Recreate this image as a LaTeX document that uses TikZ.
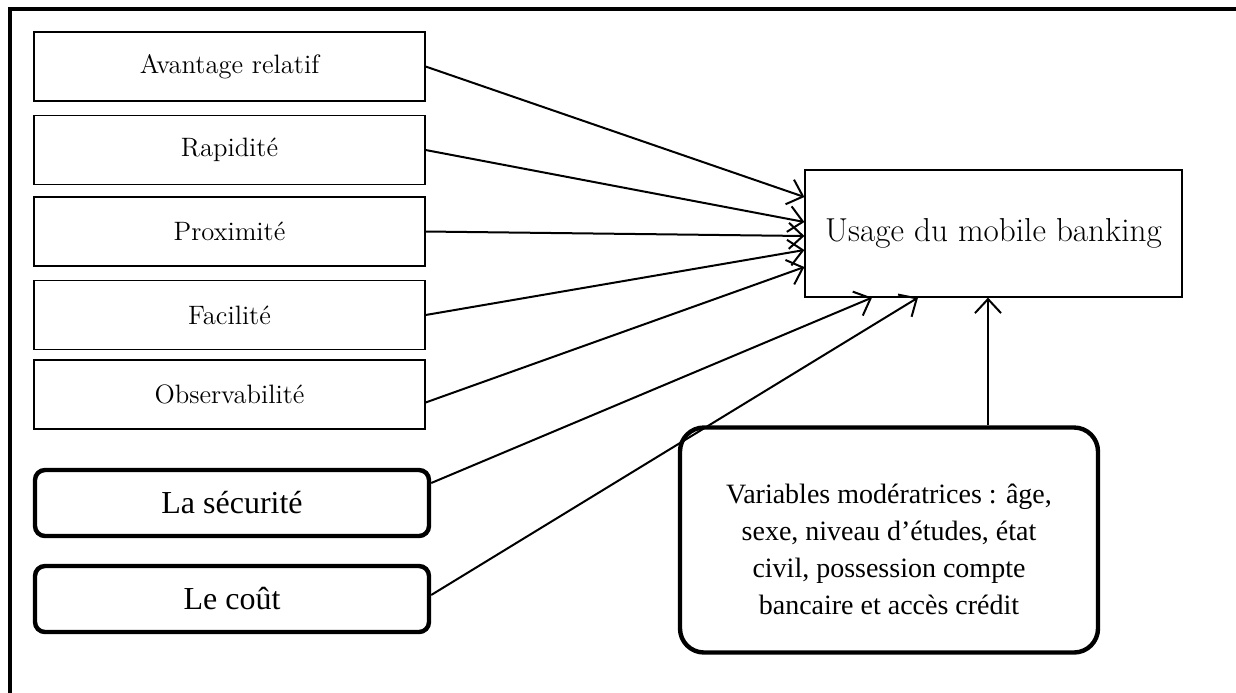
\documentclass[tikz,border=0pt]{standalone}
\usepackage{fontspec}
\newfontfamily\timesfont{Liberation Serif}
\usetikzlibrary{arrows.meta,calc}

\tikzset{
  facteur/.style={draw, line width=0.6pt, minimum width=195.5pt, minimum height=34.5pt, inner sep=0pt, font=\fontsize{13.3}{16}\selectfont},
  risque/.style={draw, line width=2.2pt, rounded corners=5pt, minimum width=197pt, minimum height=33pt, inner sep=0pt, font=\timesfont\fontsize{16}{19}\selectfont},
  fleche/.style={line width=1pt, -{Straight Barb[length=7pt,width=13pt]}},
}

\begin{document}
\begin{tikzpicture}[x=0.5pt, y=-0.5pt]
    \useasboundingbox (0,0) rectangle (1236,692);
    \clip (0,0) rectangle (1236,692);
    \draw[line width=2pt] (10,700) -- (10,9) -- (1236,9); % Cadre
    \node[facteur] (avantage) at (229.5,66.5) {Avantage relatif};
    \node[facteur] (rapidite) at (229.5,150) {Rapidité};
    \node[facteur] (proximite) at (229.5,231.5) {Proximité};
    \node[facteur] (facilite) at (229.5,315) {Facilité};
    \node[facteur] (observ) at (229.5,394.5) {Observabilité};
    \node[risque] (securite) at (232,503) {La sécurité};
    \node[risque] (cout) at (232,599) {Le coût};
    \node[draw, line width=0.6pt, minimum width=188.5pt, minimum height=63.5pt, font=\fontsize{16.6}{19}\selectfont] (usage) at (993.5,233.5) {Usage du mobile banking};
    \node[draw, line width=2.2pt, rounded corners=12pt, minimum width=209pt, minimum height=112.5pt, align=center, font=\timesfont\fontsize{14}{18.5}\selectfont] (moder) at (889,540) {\rule{0pt}{19.5pt}Variables modératrices : âge,\\sexe, niveau d’études, état\\civil, possession compte\\bancaire et accès crédit};
    % Fleches vers l'usage
    \draw[fleche] (avantage.east) -- ($(usage.west)+(0,-36.5)$);
    \draw[fleche] (rapidite.east) -- ($(usage.west)+(0,-11.5)$);
    \draw[fleche] (proximite.east) -- ($(usage.west)+(0,2.5)$);
    \draw[fleche] (facilite.east) -- ($(usage.west)+(0,16.5)$);
    \draw[fleche] ($(observ.east)+(0,8)$) -- ($(usage.west)+(0,33.5)$);
    \draw[fleche] ($(securite.east)+(0,-20)$) -- ($(usage.south)+(-121.5,0)$);
    \draw[fleche] ($(cout.east)+(0,-4)$) -- ($(usage.south)+(-75.5,0)$);
    \draw[fleche] ($(moder.north)+(99,0)$) -- ($(usage.south)+(-5.5,0)$); % Moderatrices
\end{tikzpicture}
\end{document}
